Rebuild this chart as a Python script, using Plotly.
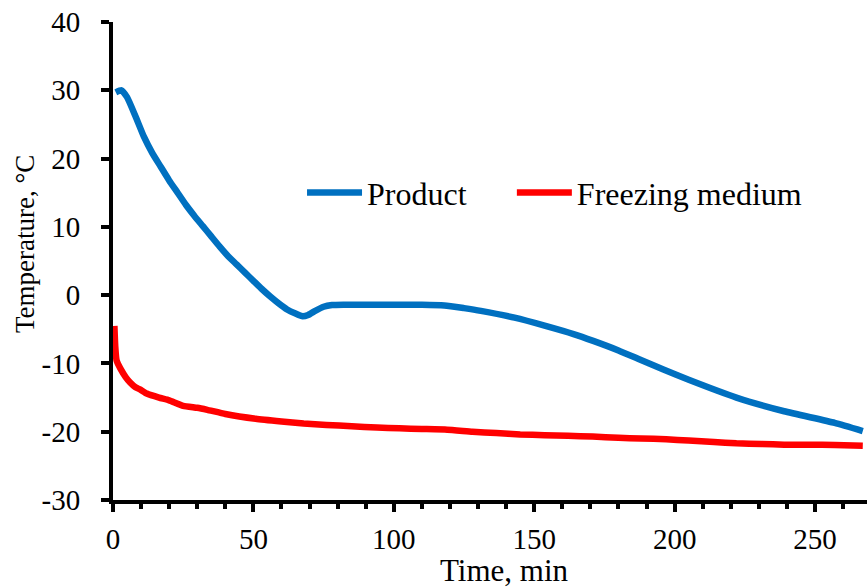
import plotly.graph_objects as go

# Product core temperature during freezing
product_time = [1, 3, 5, 8, 11, 14, 17, 20, 23, 26, 29, 32, 35, 38, 41, 44, 47, 50,
                53, 56, 59, 62, 65, 67.5, 69.5, 72, 75, 78, 82, 90, 100, 110, 118,
                125, 131, 143, 154, 164, 171, 180, 188, 196, 205, 222, 239, 257, 267]
product_temp = [29.7, 30.0, 29.0, 26.2, 23.2, 20.8, 18.8, 16.8, 15.0, 13.2, 11.6, 10.1,
                8.6, 7.1, 5.7, 4.5, 3.3, 2.1, 0.9, -0.2, -1.2, -2.1, -2.7, -3.1, -2.9,
                -2.3, -1.7, -1.45, -1.4, -1.4, -1.4, -1.4, -1.5, -1.9, -2.3, -3.3, -4.5,
                -5.7, -6.7, -8.1, -9.5, -10.9, -12.4, -15.0, -17.0, -18.7, -19.9]

# Freezing medium temperature
medium_time = [0.5, 0.8, 1.3, 2.7, 4.5, 6.1, 8, 9.6, 12, 16.4, 20, 25, 30, 33.6, 40,
               50.8, 60, 67.9, 76, 85, 94, 102, 110, 119, 128, 136.5, 145, 153.7, 162,
               170.8, 180, 188, 197, 205, 214, 222, 231, 239, 248, 257, 267]
medium_temp = [-4.5, -7.5, -9.6, -10.8, -12.0, -12.8, -13.5, -13.8, -14.4, -15.0, -15.4,
               -16.2, -16.5, -16.8, -17.4, -18.1, -18.5, -18.8, -19.0, -19.2, -19.4,
               -19.5, -19.6, -19.7, -20.0, -20.2, -20.4, -20.5, -20.6, -20.7, -20.9,
               -21.0, -21.1, -21.3, -21.5, -21.7, -21.8, -21.9, -21.9, -21.95, -22.05]

x_ticks = [0, 50, 100, 150, 200, 250]
x_tick_labels = ["0", "50", "100", "150", "200", "250"]
y_ticks = [-30, -20, -10, 0, 10, 20, 30, 40]
y_tick_labels = ["-30", "-20", "-10", "0", "10", "20", "30", "40"]

FONT = "Liberation Serif"
tick_font = dict(family=FONT, size=29, color="black")
legend_font = dict(family=FONT, size=32, color="black")

fig = go.Figure()
fig.add_trace(go.Scatter(x=product_time, y=product_temp, mode="lines", name="Product",
                         legend="legend",
                         line=dict(color="#0070C0", width=6.5, shape="spline", smoothing=0.5)))
fig.add_trace(go.Scatter(x=medium_time, y=medium_temp, mode="lines", name="Freezing medium",
                         legend="legend2",
                         line=dict(color="#FF0000", width=6.5, shape="spline", smoothing=0.4)))

fig.update_layout(
    template="none",
    width=867, height=588,
    margin=dict(l=113, r=0, t=22, b=88),
    paper_bgcolor="white", plot_bgcolor="white",
    font=dict(family=FONT, color="black", size=29),
    showlegend=True,
    legend=dict(orientation="h", x=0.2507, y=0.643, xanchor="left", yanchor="middle",
                font=legend_font, itemwidth=55, bgcolor="rgba(0,0,0,0)"),
    legend2=dict(orientation="h", x=0.529, y=0.643, xanchor="left", yanchor="middle",
                 font=legend_font, itemwidth=55, bgcolor="rgba(0,0,0,0)"),
    xaxis=dict(range=[0, 268.5], tickvals=x_ticks, ticktext=x_tick_labels,
               tickfont=tick_font, showgrid=False, zeroline=False,
               showline=True, linecolor="black", linewidth=4,
               ticks="outside", ticklen=8, tickwidth=4, tickcolor="black",
               ticklabelstandoff=2,
               minor=dict(dtick=10, ticks="outside", ticklen=5, tickwidth=4,
                          tickcolor="black", showgrid=False)),
    yaxis=dict(range=[-30, 40], tickvals=y_ticks, ticktext=y_tick_labels,
               tickfont=tick_font, showgrid=False, zeroline=False,
               showline=True, linecolor="black", linewidth=4,
               ticks="outside", ticklen=8, tickwidth=4, tickcolor="black",
               ticklabelstandoff=15),
    annotations=[
        dict(text="Time, min", xref="paper", yref="paper", x=0.519, y=-0.148,
             xanchor="center", yanchor="middle", showarrow=False,
             font=dict(family=FONT, size=31, color="black")),
        dict(text="Temperature, °C", xref="paper", yref="paper", x=-0.117, y=0.535,
             xanchor="center", yanchor="middle", textangle=-90, showarrow=False,
             font=dict(family=FONT, size=27, color="black")),
    ],
)

fig.write_html("out.html")
